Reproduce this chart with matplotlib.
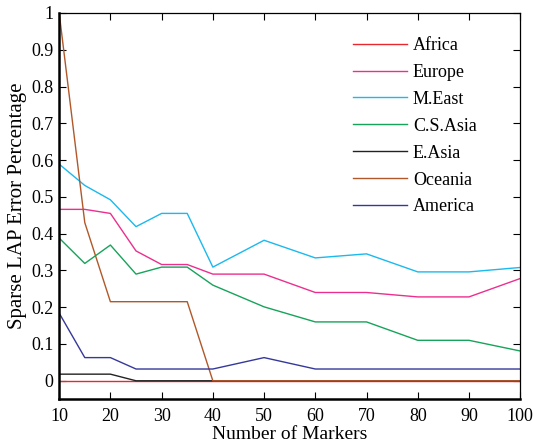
import numpy as np
import matplotlib
matplotlib.use("Agg")
import matplotlib.pyplot as plt
from matplotlib.ticker import FuncFormatter

# number of markers
markers = [10, 15, 20, 25, 30, 35, 40, 50, 60, 70, 80, 90, 100]

africa = [0, 0, 0, 0, 0, 0, 0, 0, 0, 0, 0, 0, 0]
europe = [0.466, 0.466, 0.455, 0.353, 0.316, 0.316, 0.29, 0.29, 0.24, 0.24, 0.228, 0.228, 0.278]
m_east = [0.589, 0.531, 0.492, 0.419, 0.455, 0.455, 0.309, 0.382, 0.334, 0.345, 0.296, 0.296, 0.308]
cs_asia = [0.388, 0.319, 0.369, 0.29, 0.309, 0.309, 0.26, 0.201, 0.16, 0.16, 0.11, 0.11, 0.081]
e_asia = [0.018, 0.018, 0.018, 0, 0, 0, 0, 0, 0, 0, 0, 0, 0]
oceania = [1.0, 0.43, 0.215, 0.215, 0.215, 0.215, 0, 0, 0, 0, 0, 0, 0]
america = [0.184, 0.063, 0.063, 0.032, 0.032, 0.032, 0.032, 0.063, 0.032, 0.032, 0.032, 0.032, 0.032]

series = [
    ("Africa", africa, "#e8282e"),
    ("Europe", europe, "#ec2f8e"),
    ("M.East", m_east, "#1ab9ee"),
    ("C.S.Asia", cs_asia, "#16a35a"),
    ("E.Asia", e_asia, "#222222"),
    ("Oceania", oceania, "#b0582a"),
    ("America", america, "#35389a"),
]

plt.rcParams['font.family'] = ['Liberation Serif', 'DejaVu Serif']

fig = plt.figure(figsize=(5.33, 4.46), dpi=100)
ax = fig.add_axes([0.111, 0.105, 0.865, 0.866])

for name, vals, col in series:
    ax.plot(markers, vals, color=col, lw=1.0, label=name)

ax.set_xlim(10, 100)
ax.set_ylim(-0.05, 1)
ax.set_xticks(np.arange(10, 101, 10))
ax.set_yticks(np.arange(0, 1.01, 0.1))
ax.yaxis.set_major_formatter(FuncFormatter(lambda v, p: ("%.1f" % v).rstrip("0").rstrip(".") if v else "0"))
ax.tick_params(direction="in", top=True, right=True, length=5, width=0.8, labelsize=13)
ax.tick_params(axis="y", pad=4)
ax.tick_params(axis="x", pad=6)

for side in ["left", "bottom"]:
    ax.spines[side].set_linewidth(1.8)
for side in ["top", "right"]:
    ax.spines[side].set_linewidth(0.9)

ax.set_xlabel("Number of Markers", fontsize=14, labelpad=1)
ax.set_ylabel("Sparse LAP Error Percentage", fontsize=15, labelpad=3)

leg = ax.legend(loc="upper left", frameon=False, fontsize=13, handlelength=3.0,
                handletextpad=0.35, labelspacing=0.55, bbox_to_anchor=(0.601, 0.98))

fig.savefig("out.png", dpi=100)
